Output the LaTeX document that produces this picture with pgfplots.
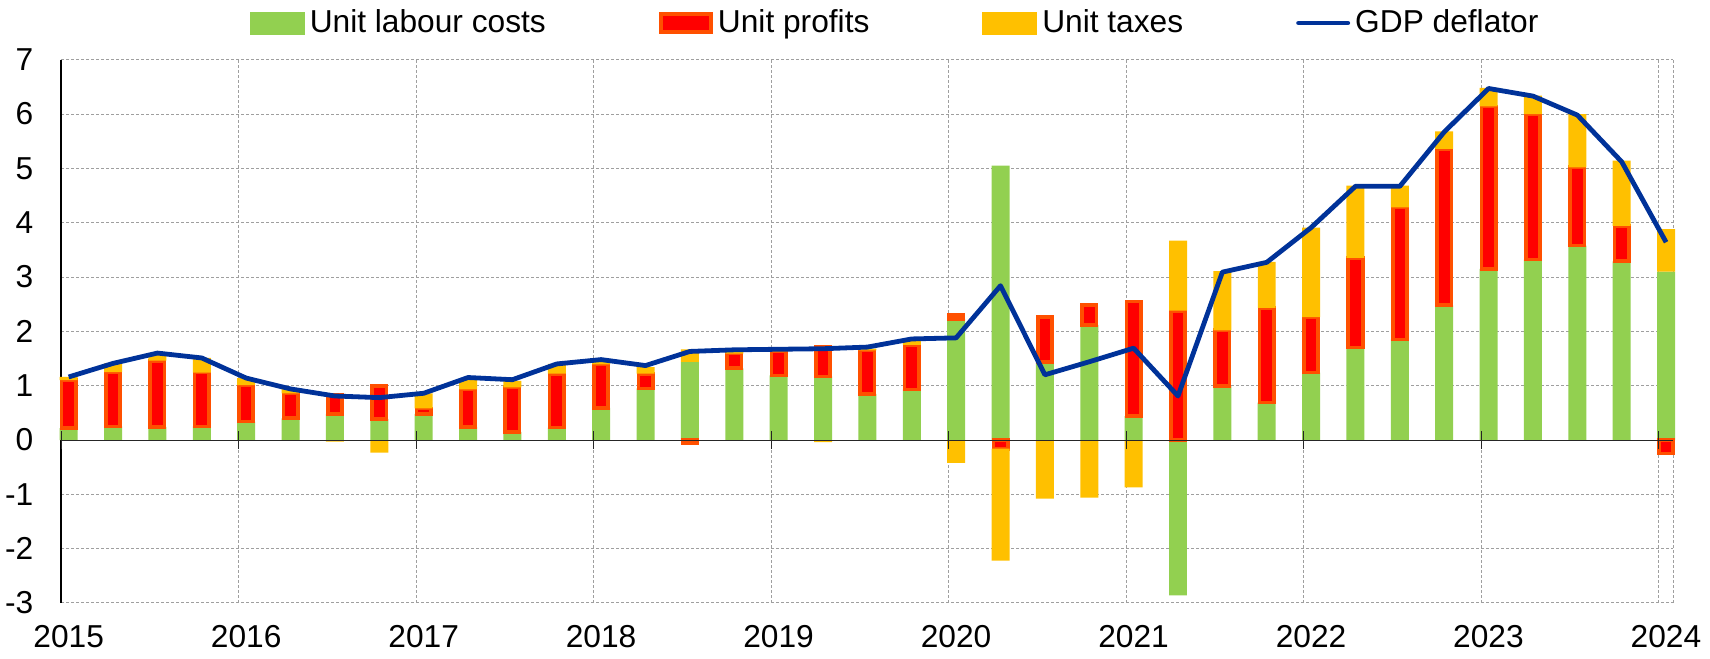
\documentclass[border=0pt]{standalone}
\usepackage{fontspec}
\setmainfont{Liberation Sans}
\usepackage{pgfplots}
\usepackage{pgfplotstable}
\pgfplotsset{compat=1.18}
\definecolor{ulc}{RGB}{146,208,80}
\definecolor{upr}{RGB}{255,0,0}
\definecolor{uprline}{RGB}{255,80,0}
\definecolor{utx}{RGB}{255,192,0}
\definecolor{gdp}{RGB}{0,50,153}

% contributions to GDP deflator growth, quarters 2015Q1-2024Q1
% g = unit labour costs, r = unit profits, t = unit taxes, d = GDP deflator
\pgfplotstableread{
x        g     r     t     d
2015.042 0.22  0.88  0.06  1.16
2015.292 0.25  1.00  0.16  1.41
2015.542 0.24  1.22  0.14  1.60
2015.792 0.25  0.99  0.27  1.51
2016.042 0.34  0.67  0.13  1.14
2016.292 0.40  0.46  0.08  0.94
2016.542 0.48  0.35 -0.03  0.81
2016.792 0.39  0.60 -0.23  0.78
2017.042 0.48  0.10  0.28  0.86
2017.292 0.24  0.69  0.19  1.15
2017.542 0.15  0.82  0.12  1.11
2017.792 0.23  0.99  0.18  1.40
2018.042 0.59  0.80  0.08  1.48
2018.292 0.95  0.27  0.12  1.37
2018.542 1.44 -0.05  0.23  1.63
2018.792 1.32  0.27  0.05  1.66
2019.042 1.19  0.44  0.03  1.67
2019.292 1.17  0.55 -0.04  1.68
2019.542 0.85  0.80  0.03  1.71
2019.792 0.93  0.82  0.10  1.86
2020.042 2.23  0.07 -0.42  1.88
2020.292 5.05 -0.16 -2.06  2.84
2020.542 1.44  0.82 -1.08  1.20
2020.792 2.12  0.36 -1.06  1.44
2021.042 0.44  2.11 -0.87  1.69
2021.292 -2.86 2.38  1.29  0.81
2021.542 0.99  1.03  1.09  3.09
2021.792 0.69  1.74  0.85  3.27
2022.042 1.24  1.02  1.65  3.91
2022.292 1.70  1.65  1.33  4.67
2022.542 1.85  2.43  0.40  4.67
2022.792 2.48  2.88  0.32  5.67
2023.042 3.15  2.99  0.34  6.47
2023.292 3.32  2.68  0.34  6.33
2023.542 3.58  1.44  0.98  5.98
2023.792 3.29  0.65  1.20  5.12
2024.042 3.10 -0.25  0.78  3.64
}\contrib

\pgfplotsset{
  frame/.style={
    scale only axis, width=806pt, height=271.65pt,
    at={(30.6pt,28pt)}, anchor=south west,
    xmin=2015, xmax=2024.082, ymin=-3, ymax=7,
    enlargelimits=false, clip=false,
  },
}
\newcommand{\lblfont}{\fontsize{15.85}{19}\selectfont}

\begin{document}
\begin{tikzpicture}
\useasboundingbox (0,0) rectangle (855pt,329.5pt);

% grid, tick labels and unit labour costs (always first in the stack)
\begin{axis}[frame,
  axis x line*=bottom, axis y line*=left,
  x axis line style={draw=none},
  y axis line style={black, line width=0.7pt},
  xtick={2015,...,2024},
  extra x ticks={2024.082}, extra x tick labels={},
  extra x tick style={grid=major},
  ytick={-3,...,7},
  major tick length=0pt,
  grid=major,
  major grid style={gray!75, line width=0.5pt, dash pattern=on 1.5pt off 1pt},
  tick label style={font=\lblfont, inner sep=0pt},
  xticklabel style={anchor=base, xshift=3.75pt, yshift=-22.5pt},
  yticklabel style={anchor=east, xshift=-13.75pt},
  /pgf/number format/1000 sep={},
  /pgf/number format/assume math mode=true,
  ybar, bar width=0.1014,
]
\addplot[fill=ulc, draw=none] table[x=x, y=g] {\contrib};
\end{axis}

% unit profits: stacked on the labour costs of the same sign
\begin{axis}[frame, hide axis, ybar stacked, bar width=0.0806]
\addplot[draw=none, fill=none] table[x=x,
  y expr={\thisrow{r}>=0 ? max(\thisrow{g},0) : min(\thisrow{g},0)}] {\contrib};
\addplot[fill=upr, draw=uprline, line width=1.85pt] table[x=x, y=r] {\contrib};
\end{axis}

% unit taxes: stacked on the components of the same sign
\begin{axis}[frame, hide axis, ybar stacked, bar width=0.1014]
\addplot[draw=none, fill=none] table[x=x,
  y expr={\thisrow{t}>=0 ? max(\thisrow{g},0)+max(\thisrow{r},0) : min(\thisrow{g},0)+min(\thisrow{r},0)}] {\contrib};
\addplot[fill=utx, draw=none] table[x=x, y=t] {\contrib};
\end{axis}

% zero line, year ticks, GDP deflator and legend
\begin{axis}[frame,
  axis x line=middle, axis y line=none,
  x axis line style={-, black!85, line width=0.5pt},
  xtick={2015,...,2024}, xticklabels={}, ytick=\empty,
  tick align=center, major tick length=9pt,
  xtick style={black!85, line width=0.5pt},
  legend columns=4,
  legend style={at={(0.1171,1.0675)}, anchor=west, draw=none, fill=none,
    inner sep=0pt, outer sep=0pt, font=\lblfont,
    nodes={inner sep=0pt},
    /tikz/every odd column/.append style={column sep=2.5pt},
    /tikz/every even column/.append style={column sep=56.5pt}},
]
\addlegendimage{legend image code/.code={\fill[ulc] (0pt,-5.5pt) rectangle (27pt,5.5pt);}}
\addlegendentry{Unit labour costs}
\addlegendimage{legend image code/.code={\draw[fill=upr, draw=uprline, line width=1.85pt] (0.9pt,-4.6pt) rectangle (26.1pt,4.6pt);}}
\addlegendentry{Unit profits}
\addlegendimage{legend image code/.code={\fill[utx] (0pt,-5.5pt) rectangle (27pt,5.5pt);}}
\addlegendentry{Unit taxes}
\addplot[gdp, line width=2.4pt, line join=round, no markers, sharp plot,
  legend image code/.code={\draw[gdp, line width=2.4pt, line cap=round] (1.2pt,0pt) -- (25.8pt,0pt);}]
  table[x=x, y=d] {\contrib};
\addlegendentry{GDP deflator}
\end{axis}
\end{tikzpicture}
\end{document}
